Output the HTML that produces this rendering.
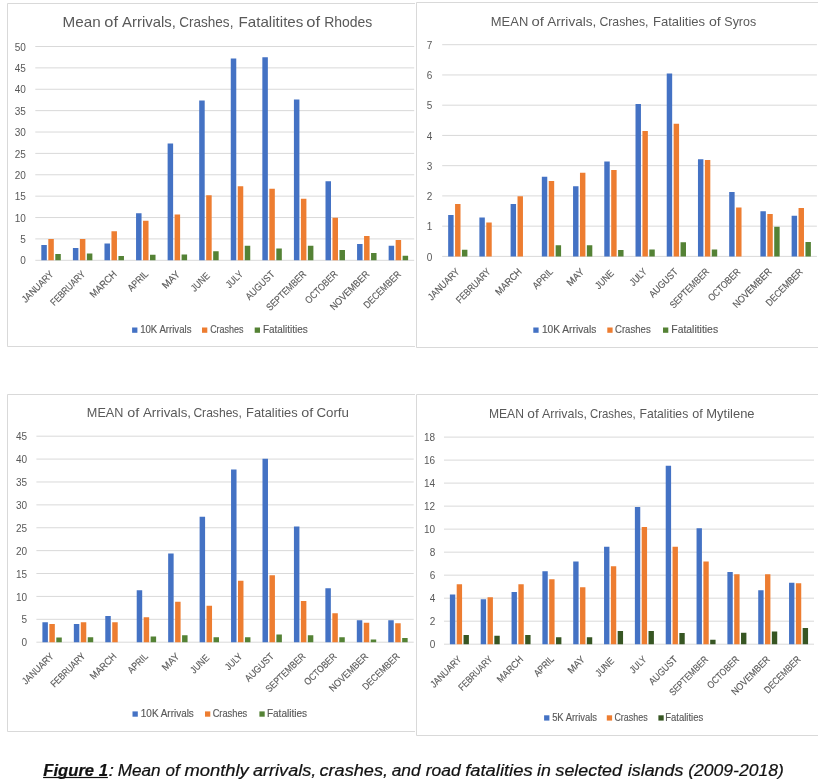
<!DOCTYPE html>
<html><head><meta charset="utf-8"><title>Figure 1</title>
<style>
html,body{margin:0;padding:0;background:#fff;}
body{width:825px;height:783px;overflow:hidden;}
svg{display:block;will-change:transform;}
text{font-family:"Liberation Sans",sans-serif;fill:#595959;}
.b{stroke:#595959;stroke-width:0.15px;}
.cap{fill:#111;font-style:italic;stroke:#111;stroke-width:0.2px;}
</style></head><body>
<svg width="825" height="783" viewBox="0 0 825 783">
<rect width="825" height="783" fill="#fff"/>
<path d="M7.5 346.5V3.5H415M7.5 346.5H415" stroke="#D9D9D9" stroke-width="1" fill="none"/>
<path d="M35.3 260.3H414.2M35.3 238.92H414.2M35.3 217.54H414.2M35.3 196.16H414.2M35.3 174.78H414.2M35.3 153.4H414.2M35.3 132.02H414.2M35.3 110.64H414.2M35.3 89.26H414.2M35.3 67.88H414.2M35.3 46.5H414.2" stroke="#D9D9D9" stroke-width="1" fill="none"/>
<text x="25.9" y="264.4" font-size="10" text-anchor="end">0</text>
<text x="25.9" y="243.02" font-size="10" text-anchor="end">5</text>
<text x="25.9" y="221.64" font-size="10" text-anchor="end">10</text>
<text x="25.9" y="200.26" font-size="10" text-anchor="end">15</text>
<text x="25.9" y="178.88" font-size="10" text-anchor="end">20</text>
<text x="25.9" y="157.5" font-size="10" text-anchor="end">25</text>
<text x="25.9" y="136.12" font-size="10" text-anchor="end">30</text>
<text x="25.9" y="114.74" font-size="10" text-anchor="end">35</text>
<text x="25.9" y="93.36" font-size="10" text-anchor="end">40</text>
<text x="25.9" y="71.98" font-size="10" text-anchor="end">45</text>
<text x="25.9" y="50.6" font-size="10" text-anchor="end">50</text>
<path d="M41.32 245.03h5.5v15.27h-5.5zM72.9 248.03h5.5v12.27h-5.5zM104.47 243.41h5.5v16.89h-5.5zM136.05 213.26h5.5v47.04h-5.5zM167.62 143.57h5.5v116.73h-5.5zM199.2 100.38h5.5v159.92h-5.5zM230.77 58.47h5.5v201.83h-5.5zM262.35 57.19h5.5v203.11h-5.5zM293.92 99.52h5.5v160.78h-5.5zM325.5 181.19h5.5v79.11h-5.5zM357.07 243.92h5.5v16.38h-5.5zM388.65 245.63h5.5v14.67h-5.5z" fill="#4472C4"/>
<path d="M48.31 239.01h5.5v21.29h-5.5zM79.88 238.92h5.5v21.38h-5.5zM111.46 231.22h5.5v29.08h-5.5zM143.03 220.79h5.5v39.51h-5.5zM174.61 214.55h5.5v45.75h-5.5zM206.18 195.3h5.5v65h-5.5zM237.76 186.33h5.5v73.97h-5.5zM269.33 188.68h5.5v71.62h-5.5zM300.91 198.73h5.5v61.57h-5.5zM332.48 217.84h5.5v42.46h-5.5zM364.06 236.01h5.5v24.29h-5.5zM395.63 240.03h5.5v20.27h-5.5z" fill="#ED7D31"/>
<path d="M55.3 254.01h5.5v6.29h-5.5zM86.87 253.46h5.5v6.84h-5.5zM118.45 255.9h5.5v4.4h-5.5zM150.02 254.83h5.5v5.47h-5.5zM181.6 254.61h5.5v5.69h-5.5zM213.17 251.32h5.5v8.98h-5.5zM244.75 245.63h5.5v14.67h-5.5zM276.32 248.41h5.5v11.89h-5.5zM307.9 245.63h5.5v14.67h-5.5zM339.47 250.12h5.5v10.18h-5.5zM371.05 252.9h5.5v7.4h-5.5zM402.62 255.72h5.5v4.58h-5.5z" fill="#548235"/>
<text transform="translate(54.19 274.8) scale(0.9998 1.0000) rotate(-45)" class="b" font-size="9.9" text-anchor="end" textLength="40.23" lengthAdjust="spacingAndGlyphs">JANUARY</text>
<text transform="translate(85.76 274.8) scale(0.9998 1.0000) rotate(-45)" class="b" font-size="9.9" text-anchor="end" textLength="44.42" lengthAdjust="spacingAndGlyphs">FEBRUARY</text>
<text transform="translate(117.34 274.8) scale(0.9998 1.0000) rotate(-45)" class="b" font-size="9.9" text-anchor="end" textLength="33.21" lengthAdjust="spacingAndGlyphs">MARCH</text>
<text transform="translate(148.91 274.8) scale(0.9998 1.0000) rotate(-45)" class="b" font-size="9.9" text-anchor="end" textLength="24.5" lengthAdjust="spacingAndGlyphs">APRIL</text>
<text transform="translate(180.49 274.8) scale(0.9998 1.0000) rotate(-45)" class="b" font-size="9.9" text-anchor="end" textLength="20.36" lengthAdjust="spacingAndGlyphs">MAY</text>
<text transform="translate(210.44 276.43) scale(0.9998 1.0000) rotate(-45)" class="b" font-size="9.9" text-anchor="end" textLength="22.21" lengthAdjust="spacingAndGlyphs">JUNE</text>
<text transform="translate(243.64 274.8) scale(0.9998 1.0000) rotate(-45)" class="b" font-size="9.9" text-anchor="end" textLength="19.8" lengthAdjust="spacingAndGlyphs">JULY</text>
<text transform="translate(275.21 274.8) scale(0.9998 1.0000) rotate(-45)" class="b" font-size="9.9" text-anchor="end" textLength="36.46" lengthAdjust="spacingAndGlyphs">AUGUST</text>
<text transform="translate(306.79 274.8) scale(0.9998 1.0000) rotate(-45)" class="b" font-size="9.9" text-anchor="end" textLength="51.61" lengthAdjust="spacingAndGlyphs">SEPTEMBER</text>
<text transform="translate(338.36 274.8) scale(0.9998 1.0000) rotate(-45)" class="b" font-size="9.9" text-anchor="end" textLength="41.54" lengthAdjust="spacingAndGlyphs">OCTOBER</text>
<text transform="translate(369.94 274.8) scale(0.9998 1.0000) rotate(-45)" class="b" font-size="9.9" text-anchor="end" textLength="50.81" lengthAdjust="spacingAndGlyphs">NOVEMBER</text>
<text transform="translate(401.51 274.8) scale(0.9998 1.0000) rotate(-45)" class="b" font-size="9.9" text-anchor="end" textLength="48.27" lengthAdjust="spacingAndGlyphs">DECEMBER</text>
<text x="62.55" y="27.3" font-size="14.2" textLength="38.14" lengthAdjust="spacingAndGlyphs">Mean</text>
<text x="104.31" y="27.3" font-size="14.2" textLength="13.66" lengthAdjust="spacingAndGlyphs">of</text>
<text x="122.07" y="27.3" font-size="14.2" textLength="53.87" lengthAdjust="spacingAndGlyphs">Arrivals,</text>
<text x="179.21" y="27.3" font-size="14.2" textLength="54.2" lengthAdjust="spacingAndGlyphs">Crashes,</text>
<text x="238.56" y="27.3" font-size="14.2" textLength="64.79" lengthAdjust="spacingAndGlyphs">Fatalitites</text>
<text x="306.21" y="27.3" font-size="14.2" textLength="13.77" lengthAdjust="spacingAndGlyphs">of</text>
<text x="324.15" y="27.3" font-size="14.2" textLength="48.15" lengthAdjust="spacingAndGlyphs">Rhodes</text>
<rect x="132.1" y="327.5" width="5.3" height="5.3" fill="#4472C4"/>
<text class="b" x="140.18" y="332.9" font-size="10.2" textLength="51.27" lengthAdjust="spacingAndGlyphs">10K Arrivals</text>
<rect x="202" y="327.5" width="5.3" height="5.3" fill="#ED7D31"/>
<text class="b" x="210.14" y="332.9" font-size="10.2" textLength="33.48" lengthAdjust="spacingAndGlyphs">Crashes</text>
<rect x="254.7" y="327.5" width="5.3" height="5.3" fill="#548235"/>
<text class="b" x="262.88" y="332.9" font-size="10.2" textLength="44.78" lengthAdjust="spacingAndGlyphs">Fatalitities</text>
<path d="M416.5 347.5V2.5H818M416.5 347.5H818" stroke="#D9D9D9" stroke-width="1" fill="none"/>
<path d="M442.2 256.4H816.9M442.2 226.16H816.9M442.2 195.91H816.9M442.2 165.67H816.9M442.2 135.43H816.9M442.2 105.19H816.9M442.2 74.94H816.9M442.2 44.7H816.9" stroke="#D9D9D9" stroke-width="1" fill="none"/>
<text x="432.3" y="260.5" font-size="10" text-anchor="end">0</text>
<text x="432.3" y="230.26" font-size="10" text-anchor="end">1</text>
<text x="432.3" y="200.01" font-size="10" text-anchor="end">2</text>
<text x="432.3" y="169.77" font-size="10" text-anchor="end">3</text>
<text x="432.3" y="139.53" font-size="10" text-anchor="end">4</text>
<text x="432.3" y="109.29" font-size="10" text-anchor="end">5</text>
<text x="432.3" y="79.04" font-size="10" text-anchor="end">6</text>
<text x="432.3" y="48.8" font-size="10" text-anchor="end">7</text>
<path d="M448.16 214.97h5.44v41.43h-5.44zM479.38 217.39h5.44v39.01h-5.44zM510.61 203.93h5.44v52.47h-5.44zM541.83 176.86h5.44v79.54h-5.44zM573.06 186.24h5.44v70.16h-5.44zM604.28 161.44h5.44v94.96h-5.44zM635.51 103.98h5.44v152.42h-5.44zM666.73 73.43h5.44v182.97h-5.44zM697.96 159.32h5.44v97.08h-5.44zM729.18 191.98h5.44v64.42h-5.44zM760.41 211.34h5.44v45.06h-5.44zM791.63 215.87h5.44v40.53h-5.44z" fill="#4472C4"/>
<path d="M455.07 204.08h5.44v52.32h-5.44zM486.29 222.53h5.44v33.87h-5.44zM517.52 196.22h5.44v60.18h-5.44zM548.74 181.1h5.44v75.3h-5.44zM579.97 172.63h5.44v83.77h-5.44zM611.19 169.91h5.44v86.49h-5.44zM642.42 130.89h5.44v125.51h-5.44zM673.64 123.63h5.44v132.77h-5.44zM704.87 159.93h5.44v96.47h-5.44zM736.09 207.41h5.44v48.99h-5.44zM767.32 214.06h5.44v42.34h-5.44zM798.54 208.01h5.44v48.39h-5.44z" fill="#ED7D31"/>
<path d="M461.97 249.75h5.44v6.65h-5.44zM555.65 245.21h5.44v11.19h-5.44zM586.87 245.21h5.44v11.19h-5.44zM618.1 250.05h5.44v6.35h-5.44zM649.32 249.44h5.44v6.96h-5.44zM680.55 242.19h5.44v14.21h-5.44zM711.77 249.44h5.44v6.96h-5.44zM774.22 226.76h5.44v29.64h-5.44zM805.45 241.88h5.44v14.52h-5.44z" fill="#548235"/>
<text transform="translate(459.95 272.31) scale(0.9888 1.0058) rotate(-45)" class="b" font-size="9.9" text-anchor="end" textLength="40.23" lengthAdjust="spacingAndGlyphs">JANUARY</text>
<text transform="translate(491.17 272.31) scale(0.9888 1.0058) rotate(-45)" class="b" font-size="9.9" text-anchor="end" textLength="44.42" lengthAdjust="spacingAndGlyphs">FEBRUARY</text>
<text transform="translate(522.4 272.31) scale(0.9888 1.0058) rotate(-45)" class="b" font-size="9.9" text-anchor="end" textLength="33.21" lengthAdjust="spacingAndGlyphs">MARCH</text>
<text transform="translate(553.62 272.31) scale(0.9888 1.0058) rotate(-45)" class="b" font-size="9.9" text-anchor="end" textLength="24.5" lengthAdjust="spacingAndGlyphs">APRIL</text>
<text transform="translate(584.85 272.31) scale(0.9888 1.0058) rotate(-45)" class="b" font-size="9.9" text-anchor="end" textLength="20.36" lengthAdjust="spacingAndGlyphs">MAY</text>
<text transform="translate(614.45 273.94) scale(0.9888 1.0058) rotate(-45)" class="b" font-size="9.9" text-anchor="end" textLength="22.21" lengthAdjust="spacingAndGlyphs">JUNE</text>
<text transform="translate(647.3 272.31) scale(0.9888 1.0058) rotate(-45)" class="b" font-size="9.9" text-anchor="end" textLength="19.8" lengthAdjust="spacingAndGlyphs">JULY</text>
<text transform="translate(678.52 272.31) scale(0.9888 1.0058) rotate(-45)" class="b" font-size="9.9" text-anchor="end" textLength="36.46" lengthAdjust="spacingAndGlyphs">AUGUST</text>
<text transform="translate(709.75 272.31) scale(0.9888 1.0058) rotate(-45)" class="b" font-size="9.9" text-anchor="end" textLength="51.61" lengthAdjust="spacingAndGlyphs">SEPTEMBER</text>
<text transform="translate(740.97 272.31) scale(0.9888 1.0058) rotate(-45)" class="b" font-size="9.9" text-anchor="end" textLength="41.54" lengthAdjust="spacingAndGlyphs">OCTOBER</text>
<text transform="translate(772.2 272.31) scale(0.9888 1.0058) rotate(-45)" class="b" font-size="9.9" text-anchor="end" textLength="50.81" lengthAdjust="spacingAndGlyphs">NOVEMBER</text>
<text transform="translate(803.42 272.31) scale(0.9888 1.0058) rotate(-45)" class="b" font-size="9.9" text-anchor="end" textLength="48.27" lengthAdjust="spacingAndGlyphs">DECEMBER</text>
<text x="490.84" y="25.9" font-size="13.0" textLength="37.42" lengthAdjust="spacingAndGlyphs">MEAN</text>
<text x="531.58" y="25.9" font-size="13.0" textLength="12.4" lengthAdjust="spacingAndGlyphs">of</text>
<text x="547.27" y="25.9" font-size="13.0" textLength="49.05" lengthAdjust="spacingAndGlyphs">Arrivals,</text>
<text x="599.38" y="25.9" font-size="13.0" textLength="49.13" lengthAdjust="spacingAndGlyphs">Crashes,</text>
<text x="652.93" y="25.9" font-size="13.0" textLength="52.24" lengthAdjust="spacingAndGlyphs">Fatalities</text>
<text x="709.01" y="25.9" font-size="13.0" textLength="11.77" lengthAdjust="spacingAndGlyphs">of</text>
<text x="724.33" y="25.9" font-size="13.0" textLength="31.81" lengthAdjust="spacingAndGlyphs">Syros</text>
<rect x="533.3" y="327.5" width="5.3" height="5.3" fill="#4472C4"/>
<text class="b" x="541.93" y="333.1" font-size="10.2" textLength="54.33" lengthAdjust="spacingAndGlyphs">10K Arrivals</text>
<rect x="607.3" y="327.5" width="5.3" height="5.3" fill="#ED7D31"/>
<text class="b" x="615.01" y="333.1" font-size="10.2" textLength="35.73" lengthAdjust="spacingAndGlyphs">Crashes</text>
<rect x="663" y="327.5" width="5.3" height="5.3" fill="#548235"/>
<text class="b" x="671.35" y="333.1" font-size="10.2" textLength="46.73" lengthAdjust="spacingAndGlyphs">Fatalitities</text>
<path d="M7.5 731.5V394.5H415M7.5 731.5H415" stroke="#D9D9D9" stroke-width="1" fill="none"/>
<path d="M36.4 642.2H413.7M36.4 619.31H413.7M36.4 596.42H413.7M36.4 573.53H413.7M36.4 550.64H413.7M36.4 527.76H413.7M36.4 504.87H413.7M36.4 481.98H413.7M36.4 459.09H413.7M36.4 436.2H413.7" stroke="#D9D9D9" stroke-width="1" fill="none"/>
<text x="27" y="646.3" font-size="10" text-anchor="end">0</text>
<text x="27" y="623.41" font-size="10" text-anchor="end">5</text>
<text x="27" y="600.52" font-size="10" text-anchor="end">10</text>
<text x="27" y="577.63" font-size="10" text-anchor="end">15</text>
<text x="27" y="554.74" font-size="10" text-anchor="end">20</text>
<text x="27" y="531.86" font-size="10" text-anchor="end">25</text>
<text x="27" y="508.97" font-size="10" text-anchor="end">30</text>
<text x="27" y="486.08" font-size="10" text-anchor="end">35</text>
<text x="27" y="463.19" font-size="10" text-anchor="end">40</text>
<text x="27" y="440.3" font-size="10" text-anchor="end">45</text>
<path d="M42.4 622.2h5.48v20h-5.48zM73.84 624.03h5.48v18.17h-5.48zM105.28 615.92h5.48v26.28h-5.48zM136.72 590.33h5.48v51.87h-5.48zM168.16 553.39h5.48v88.81h-5.48zM199.61 516.77h5.48v125.43h-5.48zM231.05 469.62h5.48v172.58h-5.48zM262.49 458.63h5.48v183.57h-5.48zM293.93 526.38h5.48v115.82h-5.48zM325.37 588.18h5.48v54.02h-5.48zM356.81 620.23h5.48v21.97h-5.48zM388.26 620.23h5.48v21.97h-5.48z" fill="#4472C4"/>
<path d="M49.35 624.03h5.48v18.17h-5.48zM80.8 622.2h5.48v20h-5.48zM112.24 622.2h5.48v20h-5.48zM143.68 617.21h5.48v24.99h-5.48zM175.12 601.82h5.48v40.38h-5.48zM206.56 605.72h5.48v36.48h-5.48zM238 580.86h5.48v61.34h-5.48zM269.45 575.36h5.48v66.84h-5.48zM300.89 601h5.48v41.2h-5.48zM332.33 613.13h5.48v29.07h-5.48zM363.77 622.7h5.48v19.5h-5.48zM395.21 623.29h5.48v18.91h-5.48z" fill="#ED7D31"/>
<path d="M56.31 637.62h5.48v4.58h-5.48zM87.75 637.16h5.48v5.04h-5.48zM150.64 636.62h5.48v5.58h-5.48zM182.08 635.2h5.48v7h-5.48zM213.52 637.21h5.48v4.99h-5.48zM244.96 637.21h5.48v4.99h-5.48zM276.4 634.42h5.48v7.78h-5.48zM307.84 635.33h5.48v6.87h-5.48zM339.29 637.16h5.48v5.04h-5.48zM370.73 639.59h5.48v2.61h-5.48zM402.17 637.99h5.48v4.21h-5.48z" fill="#548235"/>
<text transform="translate(54.35 657.01) scale(0.9956 0.9825) rotate(-45)" class="b" font-size="9.9" text-anchor="end" textLength="40.23" lengthAdjust="spacingAndGlyphs">JANUARY</text>
<text transform="translate(85.79 657.01) scale(0.9956 0.9825) rotate(-45)" class="b" font-size="9.9" text-anchor="end" textLength="44.42" lengthAdjust="spacingAndGlyphs">FEBRUARY</text>
<text transform="translate(117.23 657.01) scale(0.9956 0.9825) rotate(-45)" class="b" font-size="9.9" text-anchor="end" textLength="33.21" lengthAdjust="spacingAndGlyphs">MARCH</text>
<text transform="translate(148.68 657.01) scale(0.9956 0.9825) rotate(-45)" class="b" font-size="9.9" text-anchor="end" textLength="24.5" lengthAdjust="spacingAndGlyphs">APRIL</text>
<text transform="translate(180.12 657.01) scale(0.9956 0.9825) rotate(-45)" class="b" font-size="9.9" text-anchor="end" textLength="20.36" lengthAdjust="spacingAndGlyphs">MAY</text>
<text transform="translate(209.93 658.64) scale(0.9956 0.9825) rotate(-45)" class="b" font-size="9.9" text-anchor="end" textLength="22.21" lengthAdjust="spacingAndGlyphs">JUNE</text>
<text transform="translate(243 657.01) scale(0.9956 0.9825) rotate(-45)" class="b" font-size="9.9" text-anchor="end" textLength="19.8" lengthAdjust="spacingAndGlyphs">JULY</text>
<text transform="translate(274.44 657.01) scale(0.9956 0.9825) rotate(-45)" class="b" font-size="9.9" text-anchor="end" textLength="36.46" lengthAdjust="spacingAndGlyphs">AUGUST</text>
<text transform="translate(305.88 657.01) scale(0.9956 0.9825) rotate(-45)" class="b" font-size="9.9" text-anchor="end" textLength="51.61" lengthAdjust="spacingAndGlyphs">SEPTEMBER</text>
<text transform="translate(337.33 657.01) scale(0.9956 0.9825) rotate(-45)" class="b" font-size="9.9" text-anchor="end" textLength="41.54" lengthAdjust="spacingAndGlyphs">OCTOBER</text>
<text transform="translate(368.77 657.01) scale(0.9956 0.9825) rotate(-45)" class="b" font-size="9.9" text-anchor="end" textLength="50.81" lengthAdjust="spacingAndGlyphs">NOVEMBER</text>
<text transform="translate(400.21 657.01) scale(0.9956 0.9825) rotate(-45)" class="b" font-size="9.9" text-anchor="end" textLength="48.27" lengthAdjust="spacingAndGlyphs">DECEMBER</text>
<text x="86.86" y="416.8" font-size="13.0" textLength="36.57" lengthAdjust="spacingAndGlyphs">MEAN</text>
<text x="127.2" y="416.8" font-size="13.0" textLength="11.98" lengthAdjust="spacingAndGlyphs">of</text>
<text x="142.97" y="416.8" font-size="13.0" textLength="48.02" lengthAdjust="spacingAndGlyphs">Arrivals,</text>
<text x="193.39" y="416.8" font-size="13.0" textLength="48.4" lengthAdjust="spacingAndGlyphs">Crashes,</text>
<text x="246.04" y="416.8" font-size="13.0" textLength="51.62" lengthAdjust="spacingAndGlyphs">Fatalities</text>
<text x="301.2" y="416.8" font-size="13.0" textLength="11.98" lengthAdjust="spacingAndGlyphs">of</text>
<text x="316.42" y="416.8" font-size="13.0" textLength="32.56" lengthAdjust="spacingAndGlyphs">Corfu</text>
<rect x="132.5" y="711.4" width="5.3" height="5.3" fill="#4472C4"/>
<text class="b" x="140.85" y="716.9" font-size="10.2" textLength="53" lengthAdjust="spacingAndGlyphs">10K Arrivals</text>
<rect x="205" y="711.4" width="5.3" height="5.3" fill="#ED7D31"/>
<text class="b" x="212.63" y="716.9" font-size="10.2" textLength="34.61" lengthAdjust="spacingAndGlyphs">Crashes</text>
<rect x="259.4" y="711.4" width="5.3" height="5.3" fill="#548235"/>
<text class="b" x="266.88" y="716.9" font-size="10.2" textLength="40.19" lengthAdjust="spacingAndGlyphs">Fatalities</text>
<path d="M416.5 735.5V394.5H818M416.5 735.5H818" stroke="#D9D9D9" stroke-width="1" fill="none"/>
<path d="M444 644.2H814M444 621.19H814M444 598.18H814M444 575.17H814M444 552.16H814M444 529.14H814M444 506.13H814M444 483.12H814M444 460.11H814M444 437.1H814" stroke="#D9D9D9" stroke-width="1" fill="none"/>
<text x="435.2" y="648.3" font-size="10" text-anchor="end">0</text>
<text x="435.2" y="625.29" font-size="10" text-anchor="end">2</text>
<text x="435.2" y="602.28" font-size="10" text-anchor="end">4</text>
<text x="435.2" y="579.27" font-size="10" text-anchor="end">6</text>
<text x="435.2" y="556.26" font-size="10" text-anchor="end">8</text>
<text x="435.2" y="533.24" font-size="10" text-anchor="end">10</text>
<text x="435.2" y="510.23" font-size="10" text-anchor="end">12</text>
<text x="435.2" y="487.22" font-size="10" text-anchor="end">14</text>
<text x="435.2" y="464.21" font-size="10" text-anchor="end">16</text>
<text x="435.2" y="441.2" font-size="10" text-anchor="end">18</text>
<path d="M449.88 594.61h5.37v49.59h-5.37zM480.72 599.21h5.37v44.99h-5.37zM511.55 592.08h5.37v52.12h-5.37zM542.38 571.37h5.37v72.83h-5.37zM573.22 561.59h5.37v82.61h-5.37zM604.05 546.75h5.37v97.45h-5.37zM634.88 506.94h5.37v137.26h-5.37zM665.72 465.75h5.37v178.45h-5.37zM696.55 528.34h5.37v115.86h-5.37zM727.38 571.95h5.37v72.25h-5.37zM758.22 590.35h5.37v53.85h-5.37zM789.05 582.65h5.37v61.55h-5.37z" fill="#4472C4"/>
<path d="M456.7 584.37h5.37v59.83h-5.37zM487.54 597.14h5.37v47.06h-5.37zM518.37 584.37h5.37v59.83h-5.37zM549.2 579.31h5.37v64.89h-5.37zM580.04 587.13h5.37v57.07h-5.37zM610.87 566.19h5.37v78.01h-5.37zM641.7 527.07h5.37v117.13h-5.37zM672.54 546.75h5.37v97.45h-5.37zM703.37 561.59h5.37v82.61h-5.37zM734.2 574.13h5.37v70.07h-5.37zM765.04 574.13h5.37v70.07h-5.37zM795.87 583.22h5.37v60.98h-5.37z" fill="#ED7D31"/>
<path d="M463.53 635h5.37v9.2h-5.37zM494.36 635.8h5.37v8.4h-5.37zM525.19 635h5.37v9.2h-5.37zM556.03 637.3h5.37v6.9h-5.37zM586.86 637.18h5.37v7.02h-5.37zM617.69 631.08h5.37v13.12h-5.37zM648.53 631.08h5.37v13.12h-5.37zM679.36 632.92h5.37v11.28h-5.37zM710.19 639.83h5.37v4.37h-5.37zM741.03 632.81h5.37v11.39h-5.37zM771.86 631.54h5.37v12.66h-5.37zM802.69 627.98h5.37v16.22h-5.37z" fill="#375623"/>
<text transform="translate(462.1 659.97) scale(0.9764 0.9942) rotate(-45)" class="b" font-size="9.9" text-anchor="end" textLength="40.23" lengthAdjust="spacingAndGlyphs">JANUARY</text>
<text transform="translate(492.94 659.97) scale(0.9764 0.9942) rotate(-45)" class="b" font-size="9.9" text-anchor="end" textLength="44.42" lengthAdjust="spacingAndGlyphs">FEBRUARY</text>
<text transform="translate(523.77 659.97) scale(0.9764 0.9942) rotate(-45)" class="b" font-size="9.9" text-anchor="end" textLength="33.21" lengthAdjust="spacingAndGlyphs">MARCH</text>
<text transform="translate(554.6 659.97) scale(0.9764 0.9942) rotate(-45)" class="b" font-size="9.9" text-anchor="end" textLength="24.5" lengthAdjust="spacingAndGlyphs">APRIL</text>
<text transform="translate(585.44 659.97) scale(0.9764 0.9942) rotate(-45)" class="b" font-size="9.9" text-anchor="end" textLength="20.36" lengthAdjust="spacingAndGlyphs">MAY</text>
<text transform="translate(614.64 661.59) scale(0.9764 0.9942) rotate(-45)" class="b" font-size="9.9" text-anchor="end" textLength="22.21" lengthAdjust="spacingAndGlyphs">JUNE</text>
<text transform="translate(647.1 659.97) scale(0.9764 0.9942) rotate(-45)" class="b" font-size="9.9" text-anchor="end" textLength="19.8" lengthAdjust="spacingAndGlyphs">JULY</text>
<text transform="translate(677.94 659.97) scale(0.9764 0.9942) rotate(-45)" class="b" font-size="9.9" text-anchor="end" textLength="36.46" lengthAdjust="spacingAndGlyphs">AUGUST</text>
<text transform="translate(708.77 659.97) scale(0.9764 0.9942) rotate(-45)" class="b" font-size="9.9" text-anchor="end" textLength="51.61" lengthAdjust="spacingAndGlyphs">SEPTEMBER</text>
<text transform="translate(739.6 659.97) scale(0.9764 0.9942) rotate(-45)" class="b" font-size="9.9" text-anchor="end" textLength="41.54" lengthAdjust="spacingAndGlyphs">OCTOBER</text>
<text transform="translate(770.44 659.97) scale(0.9764 0.9942) rotate(-45)" class="b" font-size="9.9" text-anchor="end" textLength="50.81" lengthAdjust="spacingAndGlyphs">NOVEMBER</text>
<text transform="translate(801.27 659.97) scale(0.9764 0.9942) rotate(-45)" class="b" font-size="9.9" text-anchor="end" textLength="48.27" lengthAdjust="spacingAndGlyphs">DECEMBER</text>
<text x="488.91" y="417.7" font-size="13.0" textLength="34.98" lengthAdjust="spacingAndGlyphs">MEAN</text>
<text x="527.32" y="417.7" font-size="13.0" textLength="11.46" lengthAdjust="spacingAndGlyphs">of</text>
<text x="541.98" y="417.7" font-size="13.0" textLength="45.05" lengthAdjust="spacingAndGlyphs">Arrivals,</text>
<text x="590.02" y="417.7" font-size="13.0" textLength="45.6" lengthAdjust="spacingAndGlyphs">Crashes,</text>
<text x="639.5" y="417.7" font-size="13.0" textLength="48.74" lengthAdjust="spacingAndGlyphs">Fatalities</text>
<text x="692.17" y="417.7" font-size="13.0" textLength="10.51" lengthAdjust="spacingAndGlyphs">of</text>
<text x="706.34" y="417.7" font-size="13.0" textLength="48.24" lengthAdjust="spacingAndGlyphs">Mytilene</text>
<rect x="544.1" y="715.3" width="5.3" height="5.3" fill="#4472C4"/>
<text class="b" x="552.13" y="720.6" font-size="10.2" textLength="44.91" lengthAdjust="spacingAndGlyphs">5K Arrivals</text>
<rect x="606.8" y="715.3" width="5.3" height="5.3" fill="#ED7D31"/>
<text class="b" x="614.45" y="720.6" font-size="10.2" textLength="33.17" lengthAdjust="spacingAndGlyphs">Crashes</text>
<rect x="658.4" y="715.3" width="5.3" height="5.3" fill="#375623"/>
<text class="b" x="665.22" y="720.6" font-size="10.2" textLength="38.02" lengthAdjust="spacingAndGlyphs">Fatalities</text>
<text class="cap" x="43.31" y="775.6" font-size="16.0" font-weight="bold" textLength="64.69" lengthAdjust="spacingAndGlyphs">Figure 1</text>
<text class="cap" x="108.42" y="775.6" font-size="16.0" textLength="5.47" lengthAdjust="spacingAndGlyphs">:</text>
<text class="cap" x="117.67" y="775.6" font-size="16.0" textLength="42.91" lengthAdjust="spacingAndGlyphs">Mean</text>
<text class="cap" x="165.54" y="775.6" font-size="16.0" textLength="14.19" lengthAdjust="spacingAndGlyphs">of</text>
<text class="cap" x="184.5" y="775.6" font-size="16.0" textLength="64.18" lengthAdjust="spacingAndGlyphs">monthly</text>
<text class="cap" x="252.99" y="775.6" font-size="16.0" textLength="63.31" lengthAdjust="spacingAndGlyphs">arrivals,</text>
<text class="cap" x="319.51" y="775.6" font-size="16.0" textLength="68.5" lengthAdjust="spacingAndGlyphs">crashes,</text>
<text class="cap" x="391.71" y="775.6" font-size="16.0" textLength="28.93" lengthAdjust="spacingAndGlyphs">and</text>
<text class="cap" x="425.71" y="775.6" font-size="16.0" textLength="34.93" lengthAdjust="spacingAndGlyphs">road</text>
<text class="cap" x="465.18" y="775.6" font-size="16.0" textLength="67.4" lengthAdjust="spacingAndGlyphs">fatalities</text>
<text class="cap" x="537.01" y="775.6" font-size="16.0" textLength="13.79" lengthAdjust="spacingAndGlyphs">in</text>
<text class="cap" x="555.56" y="775.6" font-size="16.0" textLength="66.37" lengthAdjust="spacingAndGlyphs">selected</text>
<text class="cap" x="627.81" y="775.6" font-size="16.0" textLength="55.55" lengthAdjust="spacingAndGlyphs">islands</text>
<text class="cap" x="688.28" y="775.6" font-size="16.0" textLength="95.47" lengthAdjust="spacingAndGlyphs">(2009-2018)</text>
<rect x="43.1" y="776.9" width="64.8" height="1.2" fill="#111"/>
</svg>
</body></html>
